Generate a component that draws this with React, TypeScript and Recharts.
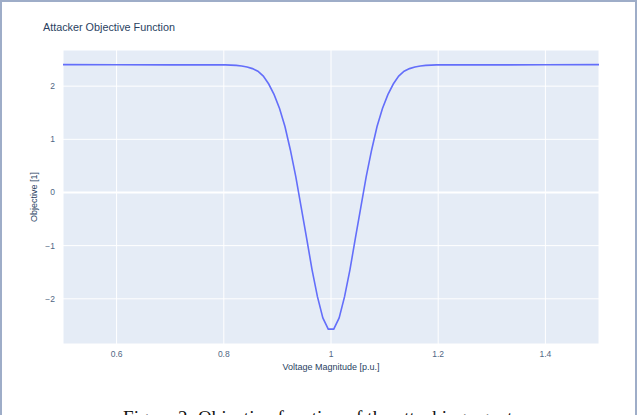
import React from "react";
import {
  LineChart,
  Line,
  XAxis,
  YAxis,
  CartesianGrid,
  ReferenceLine,
  Label,
} from "recharts";

const voltage = [
  0.5, 0.6, 0.7, 0.803, 0.8131, 0.8232, 0.8333, 0.8434, 0.8535, 0.8636,
  0.8737, 0.8838, 0.8939, 0.904, 0.9141, 0.9242, 0.9343, 0.9444, 0.9545,
  0.9646, 0.9747, 0.9848, 0.9949, 1.0051, 1.0152, 1.0253, 1.0354, 1.0455,
  1.0556, 1.0657, 1.0758, 1.0859, 1.096, 1.1061, 1.1162, 1.1263, 1.1364,
  1.1465, 1.1566, 1.1667, 1.1768, 1.1869, 1.197, 1.3, 1.4, 1.5,
];

const objective = [
  2.405, 2.402, 2.4, 2.4, 2.395, 2.39, 2.38, 2.36, 2.33, 2.28,
  2.19, 2.04, 1.84, 1.58, 1.24, 0.8, 0.3, -0.28, -0.86,
  -1.45, -1.96, -2.36, -2.57, -2.57, -2.36, -1.96, -1.45, -0.86,
  -0.28, 0.3, 0.8, 1.24, 1.58, 1.84, 2.04, 2.19, 2.28,
  2.33, 2.36, 2.38, 2.39, 2.395, 2.4, 2.4, 2.402, 2.405,
];

const xTicks = [0.6, 0.8, 1, 1.2, 1.4];
const yTicks = [-2, -1, 0, 1, 2];

const data = voltage.map((v, i) => ({ v, obj: objective[i] }));

const font = '"Liberation Sans", Arial, sans-serif';
const textColor = "#2a3f5f";

const fmtY = (n: number) => (n < 0 ? `\u2212${Math.abs(n)}` : `${n}`);

export default function App() {
  return (
    <div
      style={{
        position: "absolute",
        left: 0,
        top: 0,
        width: 640,
        height: 415,
        overflow: "hidden",
        background: "#fff",
        fontFamily: font,
      }}
    >
      <div
        style={{
          position: "absolute",
          left: 0,
          top: 0,
          width: 633,
          height: 430,
          border: "2px solid #9eadc8",
        }}
      />
      <div
        style={{
          position: "absolute",
          left: 43,
          top: 21,
          fontSize: 10.8,
          color: textColor,
          whiteSpace: "nowrap",
        }}
      >
        Attacker Objective Function
      </div>
      <LineChart
        width={640}
        height={415}
        data={data}
        margin={{ top: 50, right: 41, left: 33, bottom: 41 }}
        style={{ position: "absolute", left: 0, top: 0 }}
      >
        <CartesianGrid fill="#e5ecf6" stroke="#ffffff" strokeWidth={1} />
        <XAxis
          dataKey="v"
          type="number"
          domain={[0.5, 1.5]}
          ticks={xTicks}
          allowDataOverflow
          axisLine={false}
          tickLine={false}
          height={30}
          tickMargin={1}
          tick={{ fontSize: 8.5, fill: "#506784", fontFamily: font }}
        >
          <Label
            value="Voltage Magnitude [p.u.]"
            position="insideBottom"
            offset={4}
            style={{ fontSize: 9, fill: textColor, fontFamily: font }}
          />
        </XAxis>
        <YAxis
          type="number"
          domain={[-2.85, 2.68]}
          ticks={yTicks}
          allowDataOverflow
          axisLine={false}
          tickLine={false}
          width={30}
          tickMargin={2}
          tickFormatter={fmtY}
          tick={{ fontSize: 8.5, fill: "#506784", fontFamily: font }}
        >
          <Label
            value="Objective [1]"
            angle={-90}
            position="insideLeft"
            offset={1}
            style={{
              fontSize: 9,
              fill: textColor,
              fontFamily: font,
              textAnchor: "middle",
            }}
          />
        </YAxis>
        <ReferenceLine y={0} stroke="#ffffff" strokeWidth={2} />
        <Line
          type="linear"
          dataKey="obj"
          stroke="#636efa"
          strokeWidth={1.6}
          dot={false}
          isAnimationActive={false}
        />
      </LineChart>
      <div
        style={{
          position: "absolute",
          left: 123,
          top: 408,
          fontSize: 19,
          lineHeight: "20px",
          fontFamily: '"Liberation Serif", "DejaVu Serif", serif',
          color: "#111",
          whiteSpace: "nowrap",
          letterSpacing: 0.1,
        }}
      >
        Figure 2: Objective function of the attacking agent
      </div>
    </div>
  );
}
